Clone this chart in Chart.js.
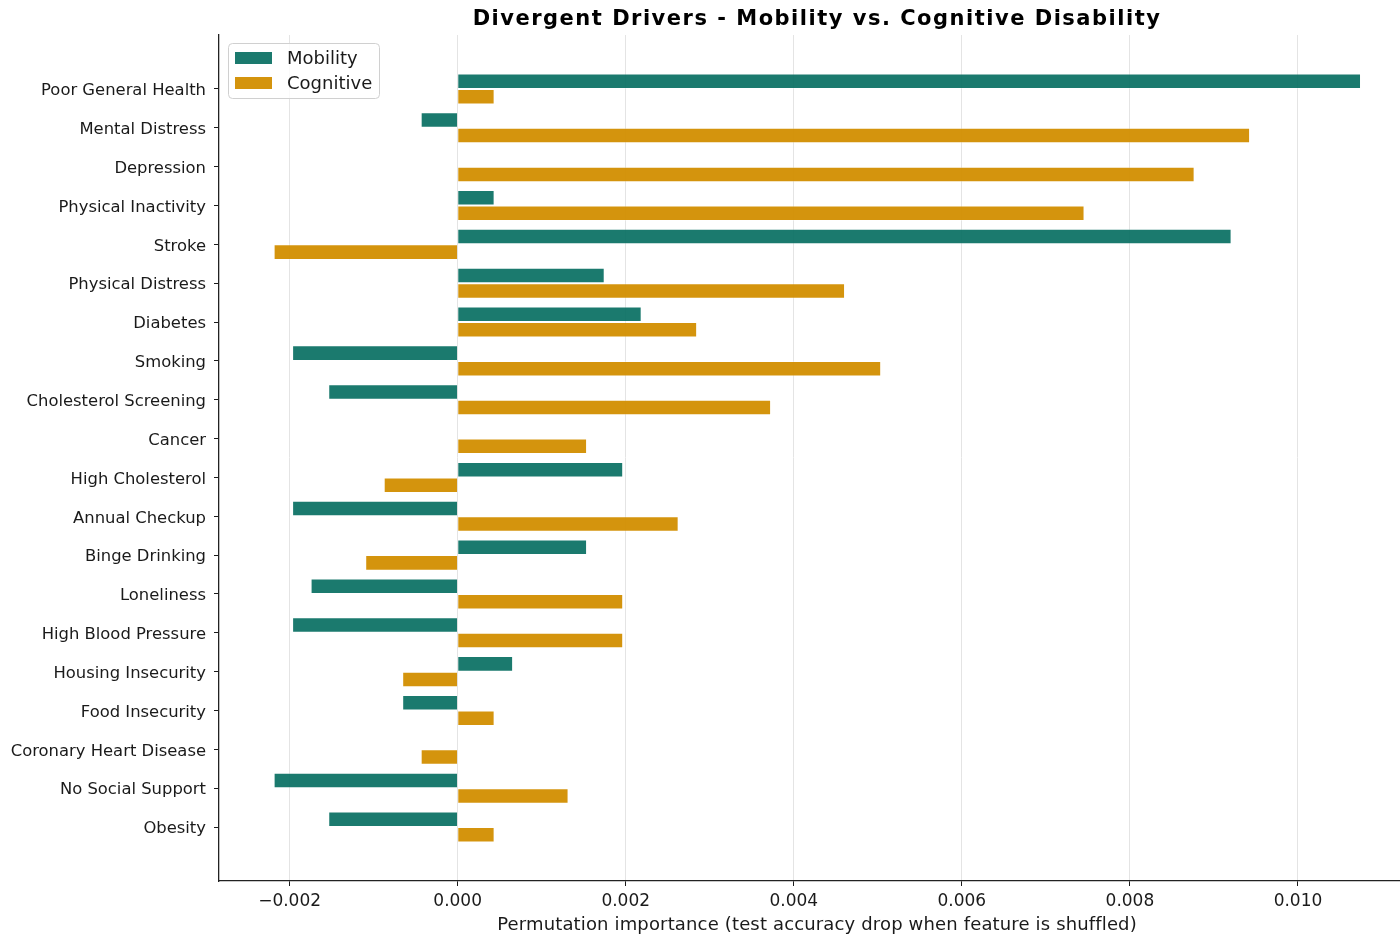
<!DOCTYPE html>
<html>
<head>
<meta charset="utf-8">
<title>Divergent Drivers</title>
<script src="https://cdn.jsdelivr.net/npm/chart.js@4.4.1/dist/chart.umd.min.js"></script>
<style>
  html, body { margin: 0; padding: 0; background: #fff; }
  #wrap { width: 1400px; height: 936px; }
</style>
</head>
<body>
<div id="wrap"><canvas id="driversChart" width="1400" height="936"></canvas></div>
<script>
// features ordered top to bottom
const features = [
    "Poor General Health", "Mental Distress", "Depression", "Physical Inactivity",
    "Stroke", "Physical Distress", "Diabetes", "Smoking", "Cholesterol Screening",
    "Cancer", "High Cholesterol", "Annual Checkup", "Binge Drinking", "Loneliness",
    "High Blood Pressure", "Housing Insecurity", "Food Insecurity",
    "Coronary Heart Disease", "No Social Support", "Obesity"
];
const mobility = [
    0.01075, -0.00044, 0.0, 0.00044, 0.00921, 0.00175, 0.00219, -0.00197, -0.00154,
    0.0, 0.00197, -0.00197, 0.00154, -0.00175, -0.00197, 0.00066, -0.00066,
    0.0, -0.00219, -0.00154
];
const cognitive = [
    0.00044, 0.00943, 0.00877, 0.00746, -0.00219, 0.00461, 0.00285, 0.00504, 0.00373,
    0.00154, -0.00088, 0.00263, -0.00110, 0.00197, 0.00197, -0.00066, 0.00044,
    -0.00044, 0.00132, 0.00044
];
const xTicks = [-0.002, 0.0, 0.002, 0.004, 0.006, 0.008, 0.010];

const TEAL = "rgba(2, 108, 94, 0.9)";
const GOLD = "rgba(210, 142, 0, 0.95)";
const FONT = "'DejaVu Sans', sans-serif";
const INK = "#1a1a1a";

function fmtTick(v) {
    const s = Math.abs(v).toFixed(3);
    return v < -1e-9 ? "\u2212" + s : s;
}

// title, x-axis label and the boxed legend inside the plot
const decorations = {
    id: "decorations",
    afterDraw(chart) {
        const ctx = chart.ctx;
        ctx.save();
        ctx.fillStyle = "#000";
        ctx.textAlign = "center";
        ctx.textBaseline = "middle";
        ctx.font = "bold 21px " + FONT;
        ctx.letterSpacing = "1.5px";
        ctx.fillText("Divergent Drivers - Mobility vs. Cognitive Disability", 817, 20);

        ctx.fillStyle = INK;
        ctx.font = "18px " + FONT;
        ctx.letterSpacing = "0.15px";
        ctx.fillText("Permutation importance (test accuracy drop when feature is shuffled)", 817, 925);
        ctx.letterSpacing = "0px";

        // legend box
        const x = 228.5, y = 43.5, w = 151, h = 55, r = 4;
        ctx.beginPath();
        ctx.roundRect(x, y, w, h, r);
        ctx.fillStyle = "rgba(255,255,255,0.8)";
        ctx.fill();
        ctx.strokeStyle = "#d0d0d0";
        ctx.lineWidth = 1;
        ctx.stroke();

        const items = [["Mobility", TEAL, 58], ["Cognitive", GOLD, 83]];
        ctx.textAlign = "left";
        ctx.font = "18px " + FONT;
        items.forEach(([label, color, cy]) => {
            ctx.fillStyle = color;
            ctx.fillRect(235, cy - 6, 37, 12);
            ctx.fillStyle = INK;
            ctx.fillText(label, 287, cy + 1);
        });
        ctx.restore();
    }
};

const ctx = document.getElementById("driversChart").getContext("2d");

new Chart(ctx, {
    type: "bar",
    data: {
        datasets: [
            {
                label: "Mobility",
                data: mobility.map((v, i) => ({ x: v, y: i })),
                backgroundColor: TEAL,
                borderColor: "rgba(255,255,255,0.3)",
                borderWidth: 1
            },
            {
                label: "Cognitive",
                data: cognitive.map((v, i) => ({ x: v, y: i })),
                backgroundColor: GOLD,
                borderColor: "rgba(255,255,255,0.3)",
                borderWidth: 1
            }
        ]
    },
    options: {
        indexAxis: "y",
        responsive: false,
        animation: false,
        devicePixelRatio: 1,
        categoryPercentage: 0.8,
        barPercentage: 1.0,
        layout: { padding: { top: 35, left: 0, right: 0, bottom: 0 } },
        plugins: {
            legend: { display: false },
            title: { display: false },
            tooltip: { enabled: false }
        },
        scales: {
            x: {
                type: "linear",
                position: "bottom",
                min: -0.00284,
                max: 0.011214,
                afterBuildTicks: (scale) => {
                    scale.ticks = xTicks.map(v => ({ value: v }));
                },
                afterFit: (scale) => { scale.height = 55; },
                ticks: {
                    callback: (v) => fmtTick(v),
                    color: INK,
                    font: { family: FONT, size: 17 },
                    padding: 5,
                    maxRotation: 0
                },
                grid: {
                    color: "#e4e4e4",
                    lineWidth: 1,
                    tickColor: INK,
                    tickLength: 5
                },
                border: { display: true, color: "#222", width: 1.3 }
            },
            y: {
                type: "linear",
                position: "left",
                reverse: true,
                offset: false,
                min: -1.39,
                max: 20.39,
                afterBuildTicks: (scale) => {
                    scale.ticks = features.map((_, i) => ({ value: i }));
                },
                afterFit: (scale) => { scale.width = 219; },
                ticks: {
                    callback: (v) => features[v] ?? "",
                    color: INK,
                    font: { family: FONT, size: 16.4 },
                    padding: 8,
                    labelOffset: 2,
                    autoSkip: false
                },
                grid: {
                    offset: false,
                    drawOnChartArea: false,
                    tickColor: INK,
                    tickLength: 5
                },
                border: { display: true, color: "#222", width: 1.3 }
            }
        }
    },
    plugins: [decorations]
});
</script>
</body>
</html>
